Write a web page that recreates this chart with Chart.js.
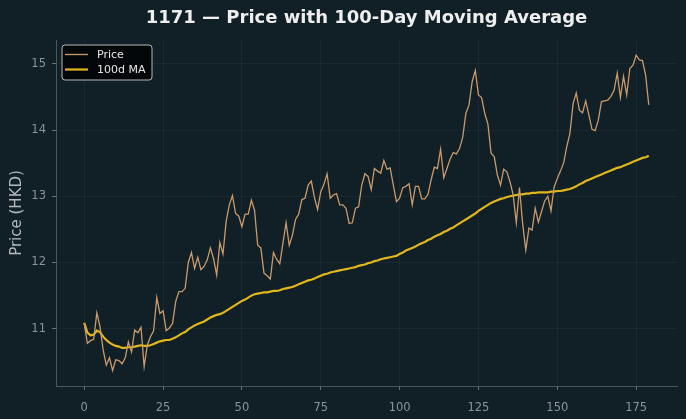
<!DOCTYPE html>
<html>
<head>
<meta charset="utf-8">
<script src="https://cdn.jsdelivr.net/npm/chart.js@4.4.1/dist/chart.umd.min.js"></script>
<style>
  html, body { margin: 0; padding: 0; background: #111f26; }
  #wrap { width: 686px; height: 419px; }
</style>
</head>
<body>
<div id="wrap"><canvas id="chart" width="686" height="419"></canvas></div>
<script>
// data
const prices = [
  11.08, 10.78, 10.82, 10.84, 11.24, 11.03, 10.68, 10.45, 10.56, 10.37,
  10.53, 10.52, 10.47, 10.56, 10.80, 10.65, 10.98, 10.94, 11.02, 10.43,
  10.75, 10.88, 10.97, 11.47, 11.23, 11.27, 10.97, 11.01, 11.08, 11.41,
  11.56, 11.56, 11.61, 12.00, 12.15, 11.91, 12.08, 11.89, 11.94, 12.04,
  12.22, 12.06, 11.81, 12.30, 12.13, 12.62, 12.87, 13.01, 12.74, 12.70,
  12.54, 12.73, 12.73, 12.94, 12.79, 12.26, 12.22, 11.84, 11.80, 11.75,
  12.15, 12.05, 11.98, 12.29, 12.60, 12.26, 12.41, 12.65, 12.73, 12.95,
  12.97, 13.17, 13.23, 12.98, 12.80, 13.07, 13.18, 13.34, 12.97, 13.02,
  13.04, 12.87, 12.87, 12.82, 12.59, 12.60, 12.82, 12.84, 13.17, 13.34,
  13.30, 13.10, 13.42, 13.38, 13.35, 13.54, 13.41, 13.43, 13.17, 12.92,
  12.97, 13.13, 13.15, 13.19, 12.87, 13.15, 13.15, 12.96, 12.96, 13.03,
  13.25, 13.44, 13.42, 13.71, 13.28, 13.42, 13.56, 13.66, 13.64, 13.72,
  13.89, 14.25, 14.38, 14.73, 14.90, 14.53, 14.49, 14.25, 14.09, 13.65,
  13.60, 13.32, 13.17, 13.41, 13.37, 13.22, 13.02, 12.60, 13.13, 12.59,
  12.19, 12.52, 12.49, 12.82, 12.61, 12.77, 12.93, 13.00, 12.78, 13.14,
  13.27, 13.38, 13.50, 13.75, 13.95, 14.40, 14.56, 14.30, 14.26, 14.44,
  14.23, 14.01, 13.99, 14.15, 14.43, 14.44, 14.45, 14.51, 14.60, 14.86,
  14.49, 14.81, 14.53, 14.93, 14.98, 15.13, 15.06, 15.05, 14.83, 14.38
];

const ma100 = [
  11.09, 10.94, 10.90, 10.91, 10.97, 10.95, 10.88, 10.83, 10.79, 10.76,
  10.74, 10.73, 10.71, 10.71, 10.72, 10.72, 10.73, 10.74, 10.75, 10.74,
  10.74, 10.75, 10.77, 10.79, 10.81, 10.82, 10.83, 10.83, 10.85, 10.87,
  10.90, 10.93, 10.95, 10.99, 11.02, 11.05, 11.07, 11.09, 11.11, 11.14,
  11.17, 11.19, 11.21, 11.22, 11.24, 11.27, 11.30, 11.33, 11.36, 11.39,
  11.42, 11.44, 11.47, 11.50, 11.52, 11.53, 11.54, 11.55, 11.55, 11.56,
  11.57, 11.57, 11.58, 11.60, 11.61, 11.62, 11.63, 11.65, 11.67, 11.69,
  11.71, 11.73, 11.74, 11.76, 11.78, 11.80, 11.82, 11.83, 11.85, 11.86,
  11.87, 11.88, 11.89, 11.90, 11.91, 11.92, 11.93, 11.95, 11.96, 11.97,
  11.99, 12.00, 12.02, 12.03, 12.05, 12.06, 12.07, 12.08, 12.09, 12.10,
  12.13, 12.15, 12.18, 12.20, 12.22, 12.24, 12.27, 12.29, 12.31, 12.34,
  12.36, 12.39, 12.41, 12.43, 12.46, 12.48, 12.51, 12.53, 12.56, 12.59,
  12.62, 12.65, 12.68, 12.71, 12.74, 12.78, 12.81, 12.84, 12.87, 12.90,
  12.92, 12.94, 12.96, 12.97, 12.99, 13.00, 13.01, 13.02, 13.03, 13.03,
  13.04, 13.04, 13.05, 13.05, 13.06, 13.06, 13.06, 13.06, 13.07, 13.07,
  13.08, 13.08, 13.09, 13.10, 13.11, 13.13, 13.15, 13.18, 13.20, 13.23,
  13.25, 13.27, 13.29, 13.31, 13.33, 13.35, 13.37, 13.39, 13.41, 13.43,
  13.44, 13.46, 13.48, 13.50, 13.52, 13.54, 13.56, 13.58, 13.59, 13.61
];

const days = prices.map((p, i) => i);
const xTicks = [0, 25, 50, 75, 100, 125, 150, 175];
const yTicks = [11, 12, 13, 14, 15];

const FONT = "'DejaVu Sans', sans-serif";

// title centred over the plot area, legend box in the top left corner
const decor = {
  id: 'decor',
  afterDraw(chart) {
    const ctx = chart.ctx;
    const a = chart.chartArea;
    ctx.save();
    ctx.fillStyle = '#eeeeee';
    ctx.font = "bold 18px " + FONT;
    ctx.textAlign = 'center';
    ctx.textBaseline = 'middle';
    ctx.fillText('1171 — Price with 100-Day Moving Average', (a.left + a.right) / 2, 18);

    const x0 = a.left + 6, y0 = a.top + 5, w = 90, h = 35;
    ctx.beginPath();
    ctx.roundRect(x0, y0, w, h, 3);
    ctx.fillStyle = 'rgba(3,5,6,0.92)';
    ctx.fill();
    ctx.strokeStyle = '#b8b8b8';
    ctx.lineWidth = 1;
    ctx.stroke();

    ctx.font = "11px " + FONT;
    ctx.textAlign = 'left';
    chart.data.datasets.forEach((ds, k) => {
      const yy = y0 + 9.5 + k * 15;
      ctx.beginPath();
      ctx.moveTo(x0 + 3, yy);
      ctx.lineTo(x0 + 26, yy);
      ctx.strokeStyle = ds.borderColor;
      ctx.lineWidth = ds.borderWidth;
      ctx.stroke();
      ctx.fillStyle = '#e8e8e8';
      ctx.fillText(ds.label, x0 + 35, yy + 0.5);
    });
    ctx.restore();
  }
};

new Chart(document.getElementById('chart'), {
  type: 'line',
  data: {
    datasets: [
      {
        label: 'Price',
        data: days.map((d, i) => ({ x: d, y: prices[i] })),
        borderColor: '#c89a6c',
        borderWidth: 1.3,
        pointRadius: 0,
        tension: 0
      },
      {
        label: '100d MA',
        data: days.map((d, i) => ({ x: d, y: ma100[i] })),
        borderColor: '#e2b71c',
        borderWidth: 2.2,
        pointRadius: 0,
        tension: 0
      }
    ]
  },
  options: {
    responsive: false,
    animation: false,
    layout: { padding: { top: 40, right: 9, left: 0, bottom: 0 } },
    plugins: {
      legend: { display: false },
      tooltip: { enabled: false },
      title: { display: false }
    },
    scales: {
      x: {
        type: 'linear',
        min: -8.95,
        max: 187.95,
        afterBuildTicks: s => { s.ticks = xTicks.map(v => ({ value: v })); },
        afterFit: s => { s.height = 33; },
        grid: { color: 'rgba(255,255,255,0.045)', tickColor: '#6a7276', tickLength: 4 },
        border: { color: '#4f575c', width: 1 },
        ticks: { color: '#8b9499', font: { family: FONT, size: 11.5 }, padding: 11, maxRotation: 0 }
      },
      y: {
        min: 10.135,
        max: 15.36,
        afterBuildTicks: s => { s.ticks = yTicks.map(v => ({ value: v })); },
        afterFit: s => { s.width = 56; },
        grid: { color: 'rgba(255,255,255,0.045)', tickColor: '#6a7276', tickLength: 4 },
        border: { color: '#4f575c', width: 1 },
        ticks: { color: '#8b9499', font: { family: FONT, size: 11.5 }, padding: 6 },
        title: {
          display: true,
          text: 'Price (HKD)',
          color: '#b4bbbf',
          font: { family: FONT, size: 15 },
          padding: { top: 8, bottom: 0 }
        }
      }
    }
  },
  plugins: [decor]
});
</script>
</body>
</html>
